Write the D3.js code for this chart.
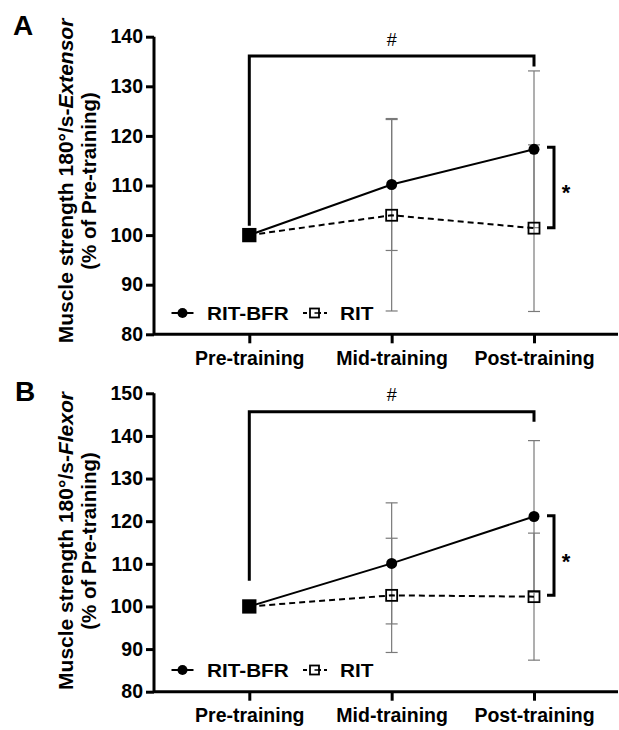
<!DOCTYPE html>
<html><head><meta charset="utf-8">
<script src="https://cdn.jsdelivr.net/npm/d3@7"></script>
<style>
html,body{margin:0;padding:0;background:#fff;}
text{font-family:"Liberation Sans",Arial,sans-serif;}
</style></head>
<body><svg id="c" width="619" height="730"></svg>
<script>
const categories = ["Pre-training", "Mid-training", "Post-training"];
const seriesNames = ["RIT-BFR", "RIT"];
// Panel A: Extensor
const extBFR = [100, 110.2, 117.3];
const extBFRsd = [0, 13.3, 15.8];
const extRIT = [100, 104.0, 101.4];
const extRITsd = [0, 19.3, 16.8];
const ticksA = [80, 90, 100, 110, 120, 130, 140];
// Panel B: Flexor
const flxBFR = [100, 110.1, 121.1];
const flxBFRsd = [0, 14.2, 17.8];
const flxRIT = [100, 102.6, 102.3];
const flxRITsd = [0, 13.4, 14.9];
const ticksB = [80, 90, 100, 110, 120, 130, 140, 150];

const svg = d3.select("#c");
const x = d3.scalePoint().domain(categories).range([249.3, 534]);
const axisX0 = 154, axisX1 = 618;
const FF = '"Liberation Sans",Arial,sans-serif';

function panel(cfg) {
  const g = svg.append("g");
  const y = d3.scaleLinear().domain([cfg.ticks[0], cfg.ticks[cfg.ticks.length - 1]]).range([cfg.bottom, cfg.top]);
  // panel letter
  g.append("text").attr("x", cfg.letterX).attr("y", cfg.letterY).attr("font-size", 28).attr("font-weight", "bold").text(cfg.letter);
  // y axis
  const ya = g.append("g").attr("transform", `translate(${axisX0},0)`)
    .call(d3.axisLeft(y).tickValues(cfg.ticks).tickSize(8).tickPadding(3).tickFormat(d3.format("d")));
  ya.select(".domain").attr("stroke", "#000").attr("stroke-width", 3).attr("d", `M0,${cfg.top}V${cfg.bottom}`);
  ya.selectAll(".tick line").attr("stroke", "#000").attr("stroke-width", 3);
  ya.selectAll(".tick text").attr("font-size", 19.5).attr("font-weight", "bold").attr("fill", "#000")
    .attr("font-family", FF);
  // x axis
  const xa = g.append("g").attr("transform", `translate(0,${cfg.bottom})`)
    .call(d3.axisBottom(x).tickSize(9).tickPadding(6));
  xa.select(".domain").attr("stroke", "#000").attr("stroke-width", 3).attr("d", `M${axisX0},0H${axisX1}`);
  xa.selectAll(".tick line").attr("stroke", "#000").attr("stroke-width", 3);
  xa.selectAll(".tick text").attr("font-size", 19.5).attr("font-weight", "bold").attr("fill", "#000")
    .attr("font-family", FF).attr("dy", "0.8em");
  // y title
  const t = g.append("text").attr("transform", `translate(73,${cfg.titleY}) rotate(-90)`)
    .attr("text-anchor", "middle").attr("font-size", 21).attr("font-weight", "bold");
  t.append("tspan").text("Muscle strength 180°/s-");
  t.append("tspan").attr("font-style", "italic").text(cfg.muscle);
  g.append("text").attr("transform", `translate(96,${cfg.titleY}) rotate(-90)`)
    .attr("text-anchor", "middle").attr("font-size", 20.5).attr("font-weight", "bold").text("(% of Pre-training)");

  // # bracket
  const bx0 = x(categories[0]), bx1 = x(categories[2]);
  g.append("path").attr("fill", "none").attr("stroke", "#000").attr("stroke-width", 3)
    .attr("d", `M${bx0},${y(cfg.hashLeftEnd)}V${y(cfg.hashY)}H${bx1}V${y(cfg.hashRightEnd)}`);
  g.append("text").attr("x", (bx0 + bx1) / 2).attr("y", y(cfg.hashY) - 10.5).attr("text-anchor", "middle")
    .attr("font-size", 18).text("#");

  // error bars
  const drawErr = (vals, sds) => {
    vals.forEach((v, i) => {
      if (!sds[i]) return;
      const cx = x(categories[i]);
      g.append("line").attr("x1", cx).attr("x2", cx).attr("y1", y(v - sds[i])).attr("y2", y(v + sds[i]))
        .attr("stroke", "#7a7a7a").attr("stroke-width", 1.2);
      [v - sds[i], v + sds[i]].forEach(e => g.append("line").attr("x1", cx - 6).attr("x2", cx + 6)
        .attr("y1", y(e)).attr("y2", y(e)).attr("stroke", "#7a7a7a").attr("stroke-width", 1.2));
    });
  };
  drawErr(cfg.rit, cfg.ritSd);
  drawErr(cfg.bfr, cfg.bfrSd);

  const line = d3.line().x((d, i) => x(categories[i])).y(d => y(d));
  g.append("path").datum(cfg.rit).attr("d", line).attr("fill", "none").attr("stroke", "#000")
    .attr("stroke-width", 2).attr("stroke-dasharray", "6,4");
  g.append("path").datum(cfg.bfr).attr("d", line).attr("fill", "none").attr("stroke", "#000").attr("stroke-width", 2);

  // markers
  cfg.bfr.forEach((v, i) => {
    if (i === 0) return;
    g.append("circle").attr("cx", x(categories[i])).attr("cy", y(v)).attr("r", 5.5).attr("fill", "#000");
  });
  cfg.rit.forEach((v, i) => {
    const s = i === 0 ? 12.5 : 11;
    g.append("rect").attr("x", x(categories[i]) - s / 2).attr("y", y(v) - s / 2).attr("width", s).attr("height", s)
      .attr("fill", i === 0 ? "#000" : "none").attr("stroke", "#000").attr("stroke-width", 1.8);
  });

  // * bracket
  const sx = 554;
  g.append("path").attr("fill", "none").attr("stroke", "#000").attr("stroke-width", 3)
    .attr("d", `M${sx - 7},${y(cfg.starTop)}H${sx}V${y(cfg.starBot)}H${sx - 7}`);
  const sc = (y(cfg.starTop) + y(cfg.starBot)) / 2;
  g.append("text").attr("x", 566).attr("y", sc + 13).attr("text-anchor", "middle").attr("font-size", 22).attr("font-weight", "bold").text("*");

  // legend
  const ly = cfg.legendY;
  g.append("line").attr("x1", 171.5).attr("x2", 193.5).attr("y1", ly).attr("y2", ly).attr("stroke", "#000").attr("stroke-width", 2);
  g.append("circle").attr("cx", 182.5).attr("cy", ly).attr("r", 5).attr("fill", "#000");
  g.append("text").attr("transform", `translate(207,${ly}) scale(1.08,1)`).attr("dy", "0.36em").attr("font-size", 19.2).attr("font-weight", "bold").text(seriesNames[0]);
  g.append("line").attr("x1", 303).attr("x2", 327).attr("y1", ly).attr("y2", ly).attr("stroke", "#000").attr("stroke-width", 2).attr("stroke-dasharray", "4,3");
  g.append("rect").attr("x", 310).attr("y", ly - 4.5).attr("width", 9).attr("height", 9).attr("fill", "#fff").attr("stroke", "#000").attr("stroke-width", 1.8);
  g.append("line").attr("x1", 314.5).attr("x2", 319).attr("y1", ly).attr("y2", ly).attr("stroke", "#000").attr("stroke-width", 1.5);
  g.append("text").attr("transform", `translate(340,${ly}) scale(1.08,1)`).attr("dy", "0.36em").attr("font-size", 19.2).attr("font-weight", "bold").text(seriesNames[1]);
}

panel({letter: "A", letterX: 13, letterY: 35, top: 36.7, bottom: 334.3, ticks: ticksA, muscle: "Extensor", titleY: 181,
  bfr: extBFR, bfrSd: extBFRsd, rit: extRIT, ritSd: extRITsd,
  hashY: 136.1, hashLeftEnd: 101.9, hashRightEnd: 134.0, starTop: 117.7, starBot: 101.5, legendY: 313});
panel({letter: "B", letterX: 15, letterY: 401, top: 393.3, bottom: 691.7, ticks: ticksB, muscle: "Flexor", titleY: 541,
  bfr: flxBFR, bfrSd: flxBFRsd, rit: flxRIT, ritSd: flxRITsd,
  hashY: 145.7, hashLeftEnd: 106, hashRightEnd: 143.3, starTop: 121.3, starBot: 102.6, legendY: 670});
</script></body></html>
